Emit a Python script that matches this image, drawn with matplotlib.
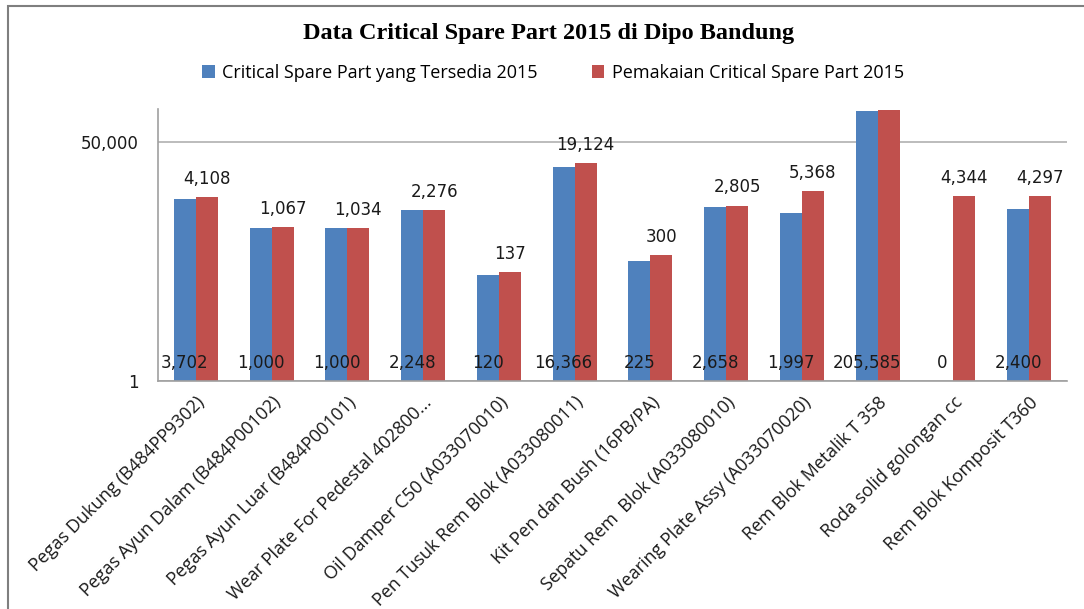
import numpy as np
import matplotlib.pyplot as plt
from matplotlib.patches import Rectangle
from matplotlib.ticker import FixedLocator, FuncFormatter

categories = [
    'Pegas Dukung (B484PP9302)',
    'Pegas Ayun Dalam (B484P00102)',
    'Pegas Ayun Luar (B484P00101)',
    'Wear Plate For Pedestal 402800...',
    'Oil Damper C50 (A033070010)',
    'Pen Tusuk Rem Blok (A033080011)',
    'Kit Pen dan Bush (16PB/PA)',
    'Sepatu Rem  Blok (A033080010)',
    'Wearing Plate Assy (A033070020)',
    'Rem Blok Metalik T 358',
    'Roda solid golongan cc',
    'Rem Blok Komposit T360',
]
tersedia = [3702, 1000, 1000, 2248, 120, 16366, 225, 2658, 1997, 205585, 0, 2400]
pemakaian = [4108, 1067, 1034, 2276, 137, 19124, 300, 2805, 5368, 212000, 4344, 4297]
label_tersedia = 'Critical Spare Part yang Tersedia 2015'
label_pemakaian = 'Pemakaian Critical Spare Part 2015'

BLUE = '#4F81BD'
RED = '#C0504D'
W, H = 1084, 609

fig = plt.figure(figsize=(W / 100, H / 100), dpi=100)
# outer chart border (left and top visible)
fig.add_artist(Rectangle((8 / W, -0.1), 1.2, (H - 6) / H + 0.1, transform=fig.transFigure,
                         fill=False, edgecolor='#7f7f7f', linewidth=1.5))

ax = fig.add_axes([158 / W, (H - 380.7) / H, (1067 - 158) / W, (380.7 - 109.3) / H])
x = np.arange(len(categories))
bw = 0.29
ax.bar(x - bw / 2, tersedia, bw, color=BLUE, label=label_tersedia)
ax.bar(x + bw / 2, pemakaian, bw, color=RED, label=label_pemakaian)
ax.set_yscale('log')
ax.set_ylim(1, 220000)
ax.set_xlim(-0.5, len(categories) - 0.5)

ax.yaxis.set_major_locator(FixedLocator([1, 50000]))
ax.yaxis.set_minor_locator(FixedLocator([]))
ax.yaxis.set_major_formatter(FuncFormatter(lambda v, p: f'{v:,.0f}'))
ax.grid(axis='y', color='#b0b0b0', linewidth=1.2)
ax.set_axisbelow(True)
ax.tick_params(axis='y', length=0, pad=14, labelsize=12, labelcolor='#1a1a1a')
ax.tick_params(axis='x', length=0, pad=9)

ax.set_xticks(x)
ax.set_xticklabels(categories, rotation=45, ha='right', rotation_mode='anchor',
                   fontsize=13, family='Open Sans', color='#1a1a1a')

for s in ['top', 'right']:
    ax.spines[s].set_visible(False)
ax.spines['left'].set_color('#a0a0a0')
ax.spines['bottom'].set_color('#a0a0a0')
ax.spines['left'].set_linewidth(1.2)
ax.spines['bottom'].set_linewidth(1.2)

for xi, v in zip(x, tersedia):
    ax.annotate(f'{v:,}', (xi - bw / 2, 1), xytext=(0, 13), textcoords='offset points',
                ha='center', va='center', fontsize=12, family='DejaVu Sans', color='#1a1a1a')
for xi, v in zip(x, pemakaian):
    ax.annotate(f'{v:,}', (xi + bw / 2, v), xytext=(0, 13), textcoords='offset points',
                ha='center', va='center', fontsize=12, family='DejaVu Sans', color='#1a1a1a',
                annotation_clip=True, clip_on=True)

fig.text(549 / W, 1 - 33 / H, 'Data Critical Spare Part 2015 di Dipo Bandung',
         ha='center', va='center', fontsize=17.5, fontweight='bold', family='Liberation Serif')
fig.legend(loc='center', bbox_to_anchor=(553 / W, 1 - 73 / H), ncol=2, frameon=False,
           prop={'family': 'Open Sans', 'size': 13}, handlelength=0.7, handleheight=0.7,
           handletextpad=0.4, columnspacing=3.0)

fig.savefig('out.png', dpi=100)
